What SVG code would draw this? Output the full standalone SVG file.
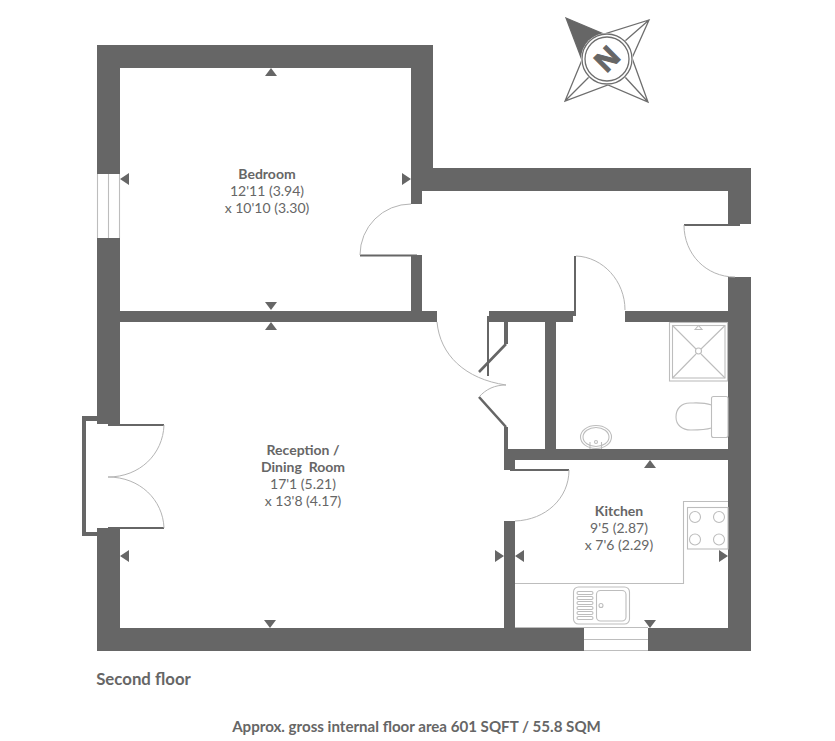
<svg xmlns="http://www.w3.org/2000/svg" width="835" height="741" viewBox="0 0 835 741">
<style>
.w{fill:#666}
.t{fill:none;stroke:#666;stroke-width:2}
.dg{fill:none;stroke:#666;stroke-width:2.600}
.d{fill:none;stroke:#b4b4b4;stroke-width:1}
.f{fill:none;stroke:#bdbdbd;stroke-width:1.100}
.g{fill:none;stroke:#6e6e6e;stroke-width:1.300}
text{font-family:"Lato","Liberation Sans",sans-serif;fill:#666;font-size:14px;text-anchor:middle}
.b{font-weight:700;font-size:14px}
</style>
<rect width="835" height="741" fill="#fff"/>
<g id="walls">
<path class="w" d="M97 45H433V168H751V224H728V191H422V204H411V68H120V174H97Z"/>
<path class="w" d="M97 238H120V311H411V255H422V311H437V322H120V424H97Z"/>
<path class="w" d="M97 528H120V628H504V521H515V628H584V651H97Z"/>
<path class="w" d="M648 628H728V277H751V651H648Z"/>
<path class="w" d="M489 311H574V256H576V316H573V322H556V449H728V460H515V470H504V427H508V449H545V322H508V344H504V322H489V376H487V316H489Z"/>
<rect class="w" x="625" y="311" width="103" height="11"/>
<path class="w" d="M82 416H97V421H86V532H97V536H82Z"/>
<path class="dg" d="M506 344L479 372M479 397L506 427"/>
</g>
<g id="windows">
<path class="f" d="M97.500 174V238M108.500 174V238M119.500 174V238M584 627.500H648M584 639.500H648M584 650.500H648"/>
</g>
<g id="doors">
<path class="t" d="M360 255.500H417M684 225H740M510 470H569M108 425H164M108 528H164"/>
<path class="d" d="M411 204A51 51 0 0 0 360 255M437 322C440 355 465 379 506 385M506 385C495 385 486 389 479 397M569 470C569 498 546 520 515 521M684 225C684 254 706 277 735 277M576 256C603 257 625 281 625 310M164 425C163 454 140 477 108 477C140 477 163 500 164 528"/>
</g>
<g id="bathroom">
<rect class="f" x="669.500" y="322.500" width="58" height="58.500"/>
<rect class="f" x="672.500" y="325.500" width="52.500" height="52.500"/>
<path class="f" d="M672.500 325.500L696 349M725 325.500L701 349M672.500 378L696 354M725 378L701 354"/>
<circle class="f" cx="698.500" cy="351" r="3"/>
<path class="f" d="M695 329.500L698.500 325.500L702 329.500Z"/>
<rect class="f" x="711.500" y="396.500" width="16.500" height="41" rx="2"/>
<path class="f" d="M711.500 405C703 402 695 403 690 403C681 403 676 409 676 417C676 425 682 430 691 430C697 430 705 430 711.500 428"/>
<ellipse class="f" cx="596" cy="437" rx="15.500" ry="11.500"/>
<ellipse class="f" cx="596" cy="437" rx="13" ry="9.500"/>
<path class="f" d="M590 449V442M601.500 449V442"/>
<circle class="f" cx="596" cy="442" r="1.500"/>
</g>
<g id="kitchen-fittings">
<path class="f" d="M515 583.500H683.500V501.500H728M515 627.500H584"/>
<rect class="f" x="687.500" y="507.500" width="40.500" height="41.500"/>
<circle class="f" cx="695" cy="517" r="5.500"/><circle class="f" cx="719" cy="517" r="5.500"/>
<circle class="f" cx="695" cy="539.500" r="5.500"/><circle class="f" cx="719" cy="539.500" r="5.500"/>
<rect class="f" x="573.500" y="587" width="56" height="37" rx="5"/>
<rect class="f" x="596.500" y="590.500" width="29.500" height="30.500" rx="4"/>
<circle class="f" cx="601" cy="605.500" r="2"/>
<g class="f"><rect x="577" y="591.500" width="16" height="3" rx="1.500"/><rect x="577" y="596.500" width="16" height="3" rx="1.500"/><rect x="577" y="601.500" width="16" height="3" rx="1.500"/><rect x="577" y="606.500" width="16" height="3" rx="1.500"/><rect x="577" y="611.500" width="16" height="3" rx="1.500"/><rect x="577" y="616.500" width="16" height="3" rx="1.500"/></g>
</g>
<g id="arrows" fill="#666">
<path d="M271 68l-6 8h12ZM271 310l-6-8h12ZM271 322l-6 8h12ZM120 179l9-6v12ZM411 179l-9-6v12Z"/>
<path d="M120 556l9-6v12ZM504 556l-9-6v12ZM270 628l-6-8h12Z"/>
<path d="M515 556l9-6v12ZM728 556l-9-6v12ZM650 460l-6 8h12ZM650 628l-6-8h12Z"/>
</g>
<g id="compass">
<path class="g" d="M566 18L604 34L649 20L632 58L648 102L608 85L565 101L582 60L566 18ZM649 20L625 41M565 101L589 77M648 102L625 77"/>
<path fill="#666" d="M566 18L604 34A27 27 0 0 0 582 60Z"/>
<circle cx="607" cy="59" r="26" fill="#fff" stroke="none"/>
<circle cx="607" cy="59" r="25" fill="none" stroke="#6e6e6e" stroke-width="1.300"/>
<circle cx="607" cy="59" r="22" fill="none" stroke="#6e6e6e" stroke-width="1.300"/>
<text transform="translate(607 59) rotate(-45)" y="10" style="font-size:28px;font-weight:700;stroke:#666;stroke-width:1px;font-family:'Open Sans',sans-serif">N</text>
</g>
<g id="labels">
<text class="b" x="267" y="179">Bedroom</text>
<text x="267" y="196">12'11 (3.94)</text>
<text x="267" y="213">x 10'10 (3.30)</text>
<text class="b" x="303" y="455">Reception /</text>
<text class="b" x="303" y="472" style="white-space:pre">Dining  Room</text>
<text x="303" y="489">17'1 (5.21)</text>
<text x="303" y="506">x 13'8 (4.17)</text>
<text class="b" x="619" y="516">Kitchen</text>
<text x="619" y="533">9'5 (2.87)</text>
<text x="619" y="550">x 7'6 (2.29)</text>
<text class="b" x="143.500" y="685" style="font-size:16.800px">Second floor</text>
<text class="b" x="416.500" y="732" style="font-size:15.100px">Approx. gross internal floor area 601 SQFT / 55.8 SQM</text>
</g>
</svg>
